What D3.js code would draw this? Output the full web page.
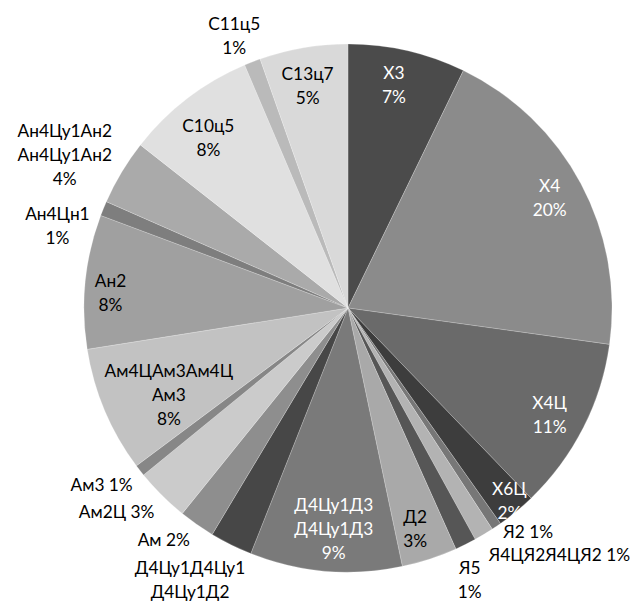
<!DOCTYPE html>
<html>
<head>
<meta charset="utf-8">
<script src="https://cdn.jsdelivr.net/npm/d3@7"></script>
<style>
  html, body { margin: 0; padding: 0; background: #fff; }
  svg { display: block; }
  text { font-family: Lato, "Open Sans", sans-serif; }
</style>
</head>
<body>
<svg id="chart" width="630" height="603"></svg>
<script>
// Categories (a space marks where a long name wraps onto the next line)
const categories = [
  "Х3", "Х4", "Х4Ц", "Х6Ц", "Я2", "Я4ЦЯ2Я4ЦЯ2", "Я5", "Д2",
  "Д4Цу1Д3 Д4Цу1Д3", "Д4Цу1Д4Цу1 Д4Цу1Д2", "Ам", "Ам2Ц", "Ам3",
  "Ам4ЦАм3Ам4Ц Ам3", "Ан2", "Ан4Цн1", "Ан4Цу1Ан2 Ан4Цу1Ан2",
  "С10ц5", "С11ц5", "С13ц7"
];

// Share of each category, %
const shares = [
  7.2, 20.0, 10.6, 2.4, 0.6, 1.2, 1.3, 3.4,
  9.3, 2.6, 2.2, 3.3, 0.7,
  7.7, 8.2, 0.9, 4.0,
  8.0, 1.0, 5.4
];

// Slice fills (grey scale)
const fills = [
  "#4b4b4b", "#8b8b8b", "#6a6a6a", "#3d3d3d", "#777777", "#b3b3b3", "#565656", "#a9a9a9",
  "#7a7a7a", "#474747", "#8e8e8e", "#cbcbcb", "#878787",
  "#c2c2c2", "#a0a0a0", "#7e7e7e", "#aaaaaa",
  "#e0e0e0", "#bababa", "#d9d9d9"
];

// Label placement: polar anchor (degrees clockwise from 12 o'clock, distance from centre),
// whether name and percentage share one line, whether the percentage is shown, text colour
const labelLayout = [
  { angle: 11.6,  dist: 228, inline: false, pct: true,  color: "#ffffff" },
  { angle: 61.3,  dist: 230, inline: false, pct: true,  color: "#ffffff" },
  { angle: 117.8, dist: 228, inline: false, pct: true,  color: "#ffffff" },
  { angle: 140.0, dist: 251, inline: false, pct: true,  color: "#ffffff" },
  { angle: 141.1, dist: 287, inline: true,  pct: true,  color: "#000000" },
  { angle: 139.4, dist: 325, inline: true,  pct: true,  color: "#000000" },
  { angle: 155.9, dist: 298, inline: false, pct: true,  color: "#000000" },
  { angle: 163.1, dist: 231, inline: false, pct: true,  color: "#000000" },
  { angle: 183.7, dist: 221, inline: false, pct: true,  color: "#ffffff" },
  { angle: 210.2, dist: 314, inline: false, pct: false, color: "#000000" },
  { angle: 218.5, dist: 296, inline: true,  pct: true,  color: "#000000" },
  { angle: 228.7, dist: 308, inline: true,  pct: true,  color: "#000000" },
  { angle: 234.4, dist: 303, inline: true,  pct: true,  color: "#000000" },
  { angle: 244.2, dist: 199, inline: false, pct: true,  color: "#000000" },
  { angle: 273.7, dist: 238, inline: false, pct: true,  color: "#000000" },
  { angle: 285.8, dist: 302, inline: false, pct: true,  color: "#000000" },
  { angle: 298.4, dist: 322, inline: false, pct: true,  color: "#000000" },
  { angle: 320.6, dist: 220, inline: false, pct: true,  color: "#000000" },
  { angle: 337.3, dist: 295, inline: false, pct: true,  color: "#000000" },
  { angle: 349.7, dist: 226, inline: false, pct: true,  color: "#000000" }
];

const width = 630, height = 603;
const cx = 348, cy = 308, radius = 264;
const fontSize = 17.3, lineHeight = 24;

const svg = d3.select("#chart");
const g = svg.append("g").attr("transform", `translate(${cx},${cy})`);

const rows = categories.map((name, i) => ({ name, value: shares[i], fill: fills[i], layout: labelLayout[i] }));
const total = d3.sum(rows, d => d.value);

const pie = d3.pie().sort(null).value(d => d.value).startAngle(0).endAngle(2 * Math.PI);
const arc = d3.arc().innerRadius(0).outerRadius(radius);
const arcs = pie(rows);

g.selectAll("path.slice")
  .data(arcs)
  .join("path")
  .attr("class", "slice")
  .attr("d", arc)
  .attr("fill", d => d.data.fill)
  .attr("stroke", "rgba(255,255,255,0.35)")
  .attr("stroke-width", 0.6);

// Data labels
const labels = g.selectAll("text.label")
  .data(arcs)
  .join("text")
  .attr("class", "label")
  .attr("text-anchor", "middle")
  .attr("font-size", fontSize)
  .attr("fill", d => d.data.layout.color);

labels.each(function (d) {
  const L = d.data.layout;
  const pct = Math.round(d.data.value / total * 100) + "%";
  const nameLines = d.data.name.split(" ");
  let lines;
  if (!L.pct) lines = nameLines;
  else if (L.inline) lines = [nameLines.join(" ") + " " + pct];
  else lines = nameLines.concat([pct]);
  const a = L.angle * Math.PI / 180;
  const x = L.dist * Math.sin(a);
  const y = -L.dist * Math.cos(a);
  const n = lines.length;
  d3.select(this).selectAll("tspan")
    .data(lines)
    .join("tspan")
    .attr("x", x)
    .attr("y", (t, i) => y + (i - (n - 1) / 2) * lineHeight + fontSize * 0.36)
    .text(t => t);
});
</script>
</body>
</html>
